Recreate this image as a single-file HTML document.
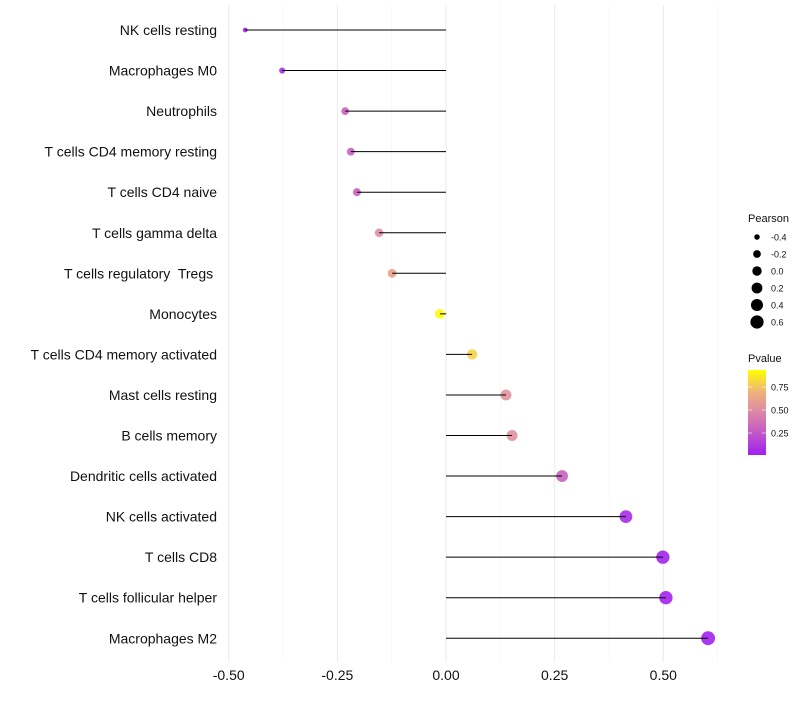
<!DOCTYPE html>
<html><head><meta charset="utf-8"><style>
body{margin:0;background:#fff;font-family:"Liberation Sans",sans-serif}
svg text{font-family:"Liberation Sans",sans-serif;white-space:pre}
</style></head><body>
<svg id="chart" width="800" height="700"></svg>
<script>
const categories=["NK cells resting","Macrophages M0","Neutrophils","T cells CD4 memory resting","T cells CD4 naive","T cells gamma delta","T cells regulatory  Tregs ","Monocytes","T cells CD4 memory activated","Mast cells resting","B cells memory","Dendritic cells activated","NK cells activated","T cells CD8","T cells follicular helper","Macrophages M2"];
const pearson=[-0.462,-0.377,-0.232,-0.219,-0.205,-0.154,-0.124,-0.014,0.06,0.138,0.152,0.267,0.414,0.499,0.506,0.603];
const pvalue=[0.02,0.08,0.3,0.3,0.32,0.55,0.65,0.99,0.85,0.57,0.55,0.3,0.05,0.02,0.02,0.01];
const xTicks=[-0.5,-0.25,0,0.25,0.5];
const xTickLabels=["-0.50","-0.25","0.00","0.25","0.50"];
const sizeLegend=[-0.4,-0.2,0.0,0.2,0.4,0.6];
const sizeLegendLabels=["-0.4","-0.2","0.0","0.2","0.4","0.6"];
const pTicks=[0.25,0.5,0.75];
const pTickLabels=["0.25","0.50","0.75"];

const NS="http://www.w3.org/2000/svg";
const svg=document.getElementById('chart');
function el(t,a,p){const e=document.createElementNS(NS,t);for(const k in a)e.setAttribute(k,a[k]);(p||svg).appendChild(e);return e;}
const x=v=>446+v*434.6;
const y=i=>30+i*40.55;
const r=v=>Math.sqrt(Math.max(1,6+(v+0.46)*40));
const stops=[[0,[160,32,240]],[0.3,[200,96,192]],[0.55,[224,144,160]],[0.75,[240,180,120]],[1,[255,255,0]]];
function col(p){p=Math.max(0,Math.min(1,p));for(let i=1;i<stops.length;i++){if(p<=stops[i][0]){const a=stops[i-1],b=stops[i];const t=(p-a[0])/(b[0]-a[0]);const c=a[1].map((v,j)=>Math.round(v+(b[1][j]-v)*t));return `rgb(${c})`;}}return 'rgb(255,255,0)';}

// grid
for(let k=0;k<xTicks.length;k++){
  let g=el('line',{x1:x(xTicks[k]),x2:x(xTicks[k]),y1:5,y2:662,stroke:'#ebebeb','stroke-width':1.1});
  
  const m=xTicks[k]+0.125;let g2=el('line',{x1:x(m),x2:x(m),y1:5,y2:662,stroke:'#f4f4f4','stroke-width':0.6});
  
  let t=el('text',{x:x(xTicks[k]),y:680,'text-anchor':'middle','font-size':14,fill:'#111'});t.textContent=xTickLabels[k];
  
}
// rows
categories.forEach((c,i)=>{
  let t=el('text',{x:217,y:y(i)+5,'text-anchor':'end','font-size':14,fill:'#111'});t.textContent=c;
  
  let d=el('circle',{cx:x(pearson[i]),cy:y(i),r:r(pearson[i]),fill:col(pvalue[i]),'fill-opacity':0.9});
  
  let ln=el('line',{x1:x(0),x2:x(pearson[i]),y1:y(i),y2:y(i),stroke:'#000','stroke-width':1});
  
});
// size legend
let lt=el('text',{x:748,y:222,'font-size':11,fill:'#111'});lt.textContent='Pearson';

sizeLegend.forEach((v,i)=>{
  const yy=237+i*17;
  let c=el('circle',{cx:757,cy:yy,r:r(v)*0.95,fill:'#000'});
  
  let t=el('text',{x:771,y:yy+3.5,'font-size':9,fill:'#111'});t.textContent=sizeLegendLabels[i];
  
});
// colour legend
let ct=el('text',{x:748,y:362,'font-size':11,fill:'#111'});ct.textContent='Pvalue';

const defs=el('defs',{});const lg=el('linearGradient',{id:'pg',x1:0,y1:1,x2:0,y2:0},defs);
stops.forEach(s=>el('stop',{offset:s[0],'stop-color':`rgb(${s[1]})`},lg));
let bar=el('rect',{x:748,y:370,width:18,height:85,fill:'url(#pg)'});

const py=p=>410-(p-0.5)*92;
pTicks.forEach((p,i)=>{
  el('line',{x1:748,x2:752,y1:py(p),y2:py(p),stroke:'#fff','stroke-width':0.6});
  el('line',{x1:762,x2:766,y1:py(p),y2:py(p),stroke:'#fff','stroke-width':0.6});
  let t=el('text',{x:771,y:py(p)+3.5,'font-size':9,fill:'#111'});t.textContent=pTickLabels[i];
  
});
</script>
</body></html>
